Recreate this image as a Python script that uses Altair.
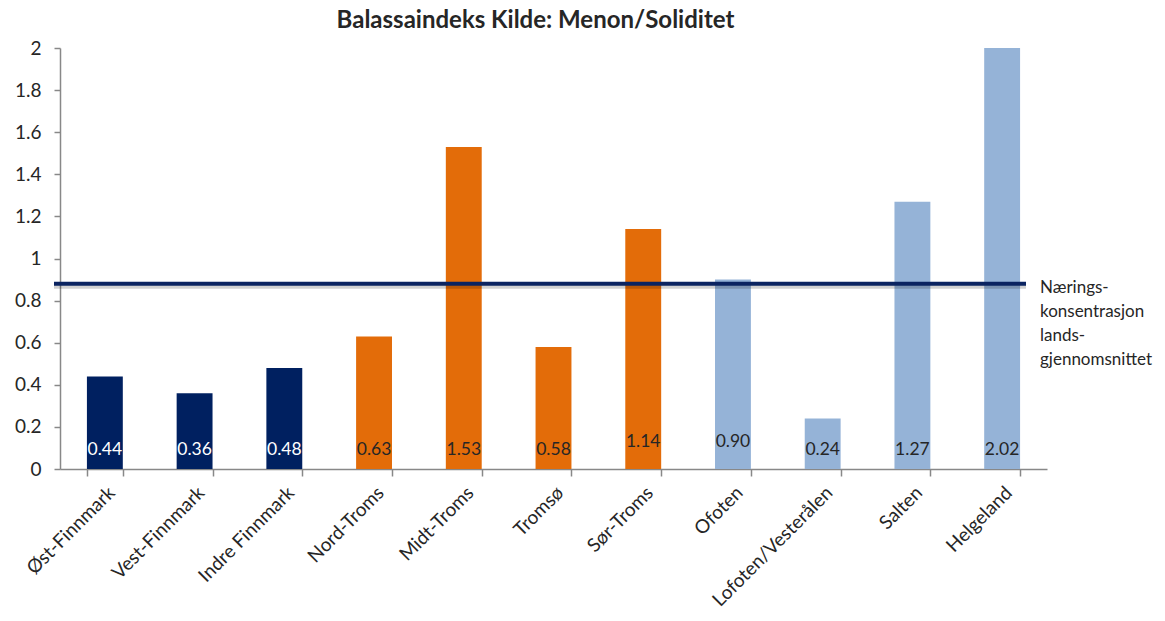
import altair as alt
import pandas as pd

regions = ["Øst-Finnmark", "Vest-Finnmark", "Indre Finnmark", "Nord-Troms", "Midt-Troms",
           "Tromsø", "Sør-Troms", "Ofoten", "Lofoten/Vesterålen", "Salten", "Helgeland"]
values = [0.44, 0.36, 0.48, 0.63, 1.53, 0.58, 1.14, 0.90, 0.24, 1.27, 2.02]
counties = ["Finnmark"] * 3 + ["Troms"] * 4 + ["Nordland"] * 4
county_names = ["Finnmark", "Troms", "Nordland"]
county_colors = ["#002060", "#E36C09", "#95B3D7"]
label_colors = ["#FFFFFF", "#262626", "#262626"]
raised_labels = ["Sør-Troms", "Ofoten"]
y_ticks = [0, 0.2, 0.4, 0.6, 0.8, 1.0, 1.2, 1.4, 1.6, 1.8, 2.0]
national_average = [0.88]
avg_label = ["Nærings-\nkonsentrasjon\nlands-\ngjennomsnittet"]
title_text = "Balassaindeks Kilde: Menon/Soliditet"

FONT = "Lato"
TXT = "#262626"
AXC = "#888888"

df = pd.DataFrame({"region": regions, "value": values, "county": counties})
df["label"] = [f"{v:.2f}" for v in values]
df["labelY"] = [0.13 if r in raised_labels else 0.09 for r in regions]
df["labelColor"] = [label_colors[county_names.index(c)] for c in counties]

avg_df = pd.DataFrame({"avg": national_average, "text": avg_label})

x_enc = alt.X(
    "region:N", sort=regions,
    scale=alt.Scale(paddingInner=0.6, paddingOuter=0.3),
    axis=alt.Axis(title=None, labelAngle=-45, labelAlign="right", labelBaseline="top",
                  labelPadding=7, tickBand="extent", tickSize=7, labelFontSize=19,
                  labelFont=FONT, labelColor=TXT, domainColor=AXC, tickColor=AXC,
                  domainWidth=1.5, tickWidth=1.5),
)
y_scale = alt.Scale(domain=[0, 2], nice=False)

bars = alt.Chart(df).mark_bar(clip=True).encode(
    x=x_enc,
    y=alt.Y("value:Q", scale=y_scale,
            axis=alt.Axis(title=None, values=y_ticks, labelExpr="format(datum.value, '~g')",
                          grid=False, tickSize=6, labelFontSize=19, labelFont=FONT,
                          labelColor=TXT, domainColor=AXC, tickColor=AXC,
                          domainWidth=1.5, tickWidth=1.5, labelPadding=13)),
    color=alt.Color("county:N", scale=alt.Scale(domain=county_names, range=county_colors),
                    legend=None),
)

labels = alt.Chart(df).mark_text(baseline="middle", fontSize=17.5, font=FONT).encode(
    x=alt.X("region:N", sort=regions),
    y=alt.Y("labelY:Q", scale=y_scale),
    text="label:N",
    color=alt.Color("labelColor:N", scale=None),
)

shadow = alt.Chart(avg_df).mark_rule(strokeWidth=4, color="#000000", opacity=0.18, yOffset=3).encode(
    y=alt.Y("avg:Q", scale=y_scale), x=alt.value(-6), x2=alt.value(966))
avg_rule = alt.Chart(avg_df).mark_rule(strokeWidth=4, color="#0B2461").encode(
    y=alt.Y("avg:Q", scale=y_scale), x=alt.value(-6), x2=alt.value(966))
avg_text = alt.Chart(avg_df).mark_text(align="left", baseline="middle", lineBreak="\n",
                                        fontSize=17, lineHeight=24, dy=4, font=FONT,
                                        color=TXT).encode(
    y=alt.Y("avg:Q", scale=y_scale), x=alt.value(980), text="text:N")

chart = alt.layer(bars, labels, shadow, avg_rule, avg_text).properties(
    width=987, height=421,
    autosize=alt.AutoSizeParams(type="none"),
    padding={"left": 52, "top": 40, "right": 110, "bottom": 144},
    title=alt.Title(title_text, fontSize=24, font=FONT, fontWeight="bold", color=TXT,
                    offset=6, dx=-18),
).configure_view(stroke=None)

chart.save("out.html", embed_options={"renderer": "svg", "actions": False})
